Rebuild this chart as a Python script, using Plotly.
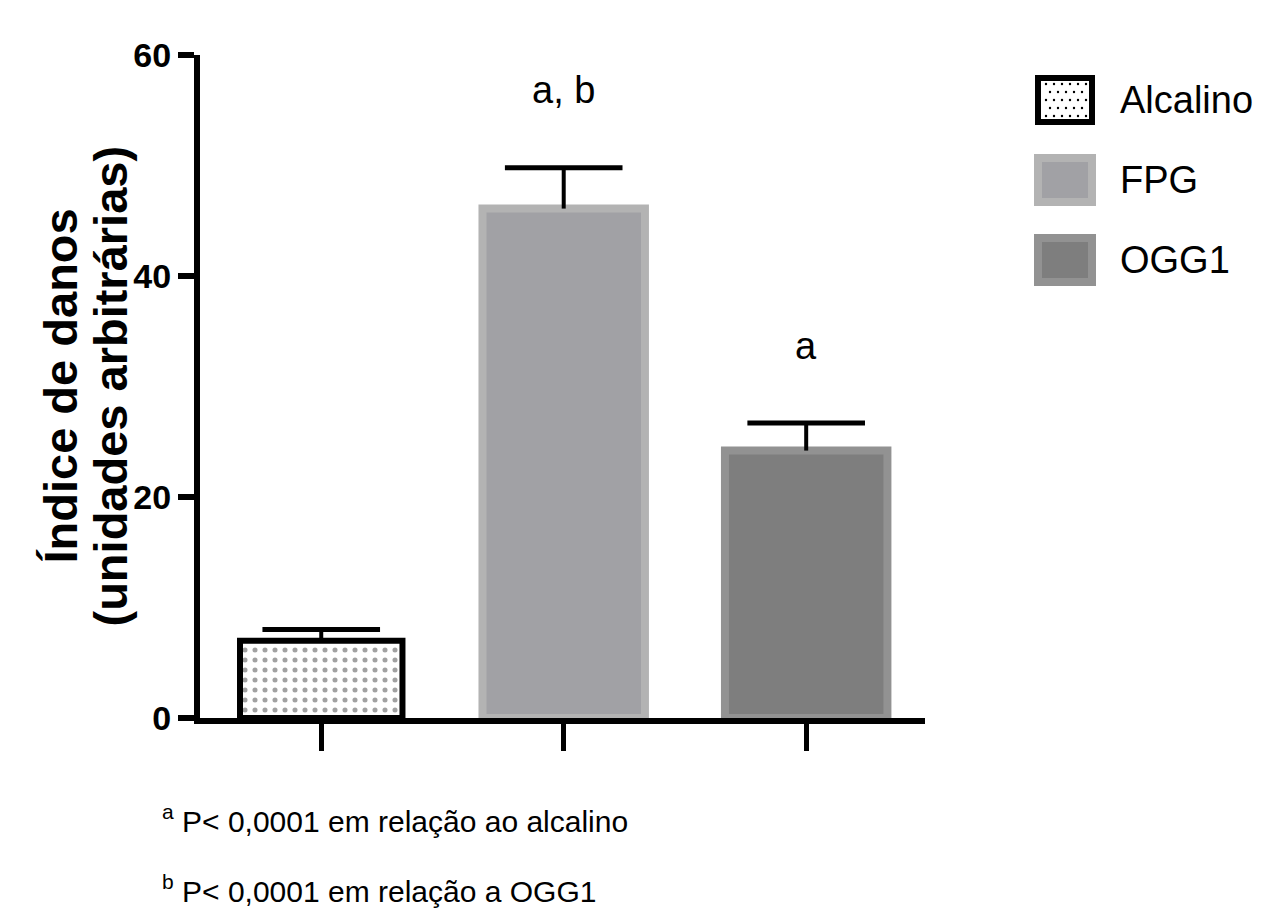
import plotly.graph_objects as go

# ---------------- data ----------------
categories = ["Alcalino", "FPG", "OGG1"]
means = [7.0, 46.1, 24.2]
errors = [1.0, 3.7, 2.5]
sig_labels = ["", "a, b", "a"]
y_ticks = [0, 20, 40, 60]
y_title_lines = ["Índice de danos", "(unidades arbitrárias)"]
footnotes = [("a", "P< 0,0001 em relação ao alcalino"),
             ("b", "P< 0,0001 em relação a OGG1")]

# ---------------- style ----------------
fill_colors = ["white", "#A1A1A5", "#7E7E7E"]
line_colors = ["black", "#B3B3B3", "#929292"]
line_widths = [6, 8, 8]
SANS = "Liberation Sans, Arial, sans-serif"

OFF = 8  # page body margin of the html page
W, H = 1271 - OFF, 915 - OFF
ML, MT = 200 - OFF, 55 - OFF
PW, PH = 725, 663
MR, MB = W - ML - PW, H - MT - PH


def px_x(px):
    return (px - OFF - ML) / PW


def px_y(py):
    return (MT + PH - (py - OFF)) / PH


fig = go.Figure()
fig.add_trace(go.Bar(
    x=categories,
    y=means,
    width=0.67,
    marker=dict(
        color=fill_colors,
        line=dict(color=line_colors, width=line_widths),
        pattern=dict(shape=[".", "", ""], fgcolor="black", bgcolor="white",
                     size=10, solidity=0.2),
    ),
    error_y=dict(type="data", array=errors, arrayminus=[0, 0, 0],
                 symmetric=False, color="black", thickness=4, width=0),
    showlegend=False,
))
# error bar caps (top only)
fig.add_trace(go.Scatter(
    x=categories,
    y=[m + e for m, e in zip(means, errors)],
    mode="markers",
    marker=dict(symbol="line-ew", size=84, color="black",
                line=dict(color="black", width=5)),
    showlegend=False, hoverinfo="skip",
))

annotations = []
# significance letters above bars
for c, m, e, lab in zip(categories, means, errors, sig_labels):
    if lab:
        annotations.append(dict(x=c, y=m + e + 7, xref="x", yref="y", text=lab,
                                showarrow=False, yanchor="middle",
                                font=dict(family=SANS, size=38, color="black")))

# y-axis title as two rotated lines
for i, line in enumerate(y_title_lines):
    annotations.append(dict(x=px_x(60 + 50 * i), y=0.5, xref="paper", yref="paper",
                            text=line, textangle=-90, showarrow=False,
                            xanchor="center", yanchor="middle",
                            font=dict(family=SANS, size=47, color="black", weight="bold")))

# footnotes
for i, (sup, txt) in enumerate(footnotes):
    annotations.append(dict(x=px_x(160), y=px_y(819 + 70 * i), xref="paper", yref="paper",
                            text=f"<sup>{sup}</sup> {txt}", showarrow=False,
                            xanchor="left", yanchor="middle",
                            font=dict(family=SANS, size=30, color="black")))

# custom legend
shapes = []
leg_y = [100, 180, 260]
for i, (cat, yc) in enumerate(zip(categories, leg_y)):
    x0, x1 = 1038, 1092
    y0, y1 = yc - 22, yc + 22
    shapes.append(dict(type="rect", xref="paper", yref="paper",
                       x0=px_x(x0), x1=px_x(x1), y0=px_y(y1), y1=px_y(y0),
                       fillcolor=fill_colors[i],
                       line=dict(color=line_colors[i], width=line_widths[i])))
    annotations.append(dict(x=px_x(1118), y=px_y(yc), xref="paper", yref="paper",
                            text=cat, showarrow=False, xanchor="left", yanchor="middle",
                            font=dict(family=SANS, size=38, color="black")))

# dots in the Alcalino legend swatch
for r in range(5):
    for k in range(6):
        cx = 1046 + k * 8 + (4 if r % 2 else 0)
        cy = 84 + r * 8
        if cx > 1086:
            continue
        shapes.append(dict(type="circle", xref="paper", yref="paper",
                           x0=px_x(cx - 1.2), x1=px_x(cx + 1.2),
                           y0=px_y(cy + 1.2), y1=px_y(cy - 1.2),
                           fillcolor="black", line=dict(width=0)))

fig.update_layout(
    width=W, height=H,
    margin=dict(l=ML, r=MR, t=MT, b=MB, pad=0),
    paper_bgcolor="white", plot_bgcolor="white",
    annotations=annotations,
    shapes=shapes,
    xaxis=dict(range=[-0.5, 2.49], showgrid=False, zeroline=False,
               showline=True, linecolor="black", linewidth=6,
               ticks="outside", ticklen=27, tickwidth=5, tickcolor="black",
               showticklabels=False),
    yaxis=dict(range=[0, 60], tickvals=y_ticks, showgrid=False, zeroline=False,
               showline=True, linecolor="black", linewidth=6,
               ticks="outside", ticklen=16, tickwidth=6, tickcolor="black",
               tickfont=dict(family=SANS, size=34, color="black", weight="bold")),
)

fig.write_html("out.html")
